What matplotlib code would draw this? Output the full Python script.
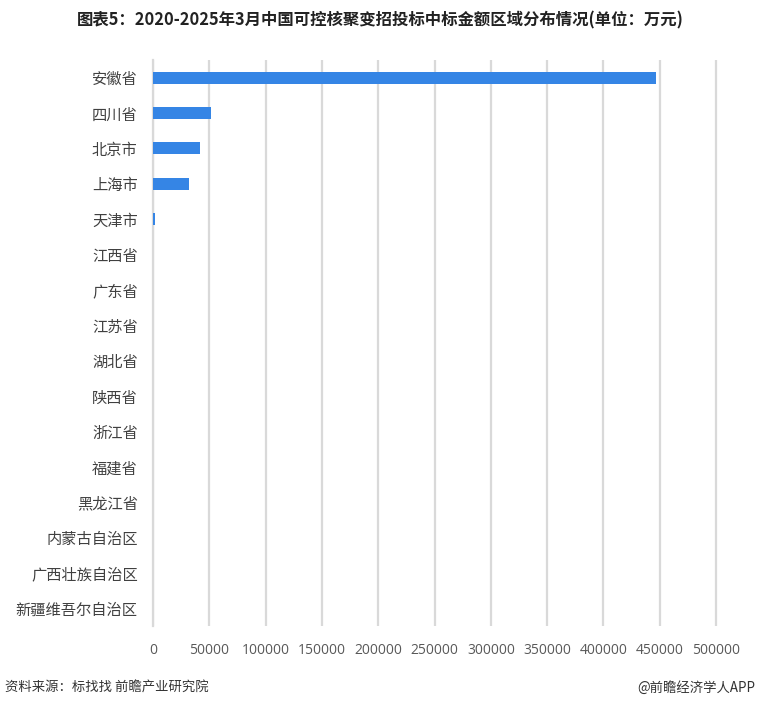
import matplotlib
matplotlib.use('Agg')
import matplotlib.pyplot as plt

plt.rcParams['font.family'] = ['Noto Sans CJK SC', 'DejaVu Sans']

# data (unit: 万元)
provinces = ['安徽省', '四川省', '北京市', '上海市', '天津市', '江西省', '广东省', '江苏省',
             '湖北省', '陕西省', '浙江省', '福建省', '黑龙江省', '内蒙古自治区',
             '广西壮族自治区', '新疆维吾尔自治区']
amounts = [446500, 51400, 41900, 32200, 1600, 150, 120, 100,
           80, 60, 50, 40, 30, 20, 15, 10]
xticks = list(range(0, 500001, 50000))

fig = plt.figure(figsize=(7.6, 7.07), dpi=100)
ax = fig.add_axes([153 / 760, 1 - 626 / 707, 580 / 760, 566 / 707])

ypos = list(range(len(provinces)))
ax.barh(ypos, amounts, height=0.34, color='#3585e5', zorder=3)
ax.set_ylim(len(provinces) - 0.5, -0.5)
ax.set_xlim(0, 515000)
ax.set_yticks(ypos)
ax.set_yticklabels(provinces, fontsize=11, color='#404040')
ax.set_xticks(xticks)
ax.set_xticklabels([str(t) for t in xticks], fontsize=10, color='#595959',
                   family=['Open Sans', 'DejaVu Sans'])
ax.tick_params(length=0)
ax.tick_params(axis='y', pad=11)
ax.tick_params(axis='x', pad=12)
ax.grid(axis='x', color='#d9d9d9', linewidth=1.6, zorder=0)
for s in ['top', 'right', 'bottom']:
    ax.spines[s].set_visible(False)
ax.spines['left'].set_color('#d9d9d9')
ax.spines['left'].set_linewidth(1.6)

fig.text(0.5, 1 - 20 / 707, '图表5：2020-2025年3月中国可控核聚变招投标中标金额区域分布情况(单位：万元)',
         ha='center', va='center', fontsize=11.8, fontweight='bold', color='#222222')
fig.text(5 / 760, 1 - 688 / 707, '资料来源：标找找 前瞻产业研究院', ha='left', va='center',
         fontsize=9.6, color='#333333')
fig.text(755 / 760, 1 - 688 / 707, '@前瞻经济学人APP', ha='right', va='center',
         fontsize=9.6, color='#333333')

fig.savefig('out.png', dpi=100)
